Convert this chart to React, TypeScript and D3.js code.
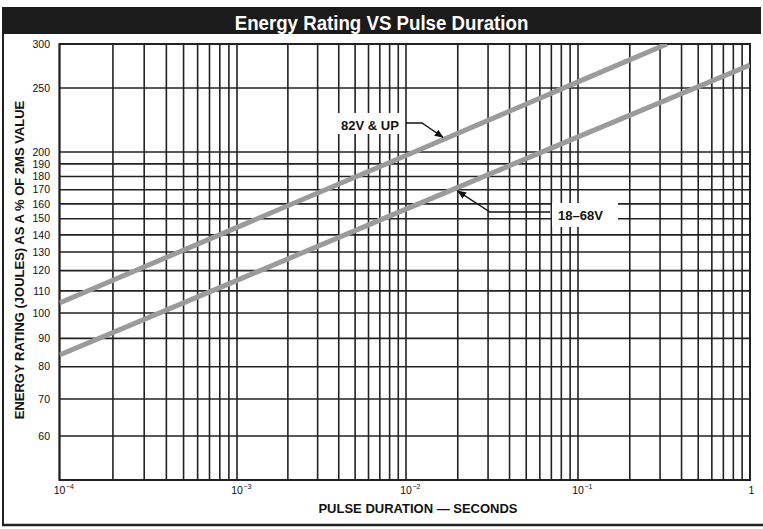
import * as d3 from "d3";

// axis knots as printed (the chart paper is not a perfect log grid)
const xKnots = [1e-4, 1e-3, 1e-2, 1e-1, 1];
const yKnots = [50, 100, 200, 250, 300];
const yTickValues = [60, 70, 80, 90, 100, 110, 120, 130, 140, 150, 160, 170, 180, 190, 200, 250, 300];
const xDecades = [-4, -3, -2, -1];
const xTickLabels = [
  { t: 1e-4, base: "10", exp: "−4" },
  { t: 1e-3, base: "10", exp: "−3" },
  { t: 1e-2, base: "10", exp: "−2" },
  { t: 1e-1, base: "10", exp: "−1" },
  { t: 1, base: "1", exp: "" },
];

// curves
const upperSeries = [
  { t: 1e-4, v: 104.4 },
  { t: 1e-3, v: 144.6 },
  { t: 1e-2, v: 197 },
  { t: 1e-1, v: 256.4 },
  { t: 0.329, v: 300 },
];
const lowerSeries = [
  { t: 1e-4, v: 84 },
  { t: 1e-3, v: 115.1 },
  { t: 1e-2, v: 156.4 },
  { t: 1e-1, v: 210.8 },
  { t: 1, v: 274.9 },
];

const title = "Energy Rating VS Pulse Duration";
const yTitle = "ENERGY RATING (JOULES) AS A % OF 2MS VALUE";
const xTitle = "PULSE DURATION — SECONDS";

export default function App() {
  const width = 763;
  const height = 529;
  const plot = { left: 59.5, right: 750, top: 44, bottom: 480 };

  // piecewise log scales: decade knots as on the printed grid
  const x = d3.scaleLog().domain(xKnots).range([plot.left, 237, 406, 578, plot.right]);
  const y = d3.scaleLog().domain(yKnots).range([plot.bottom, 313, 152, 88, plot.top]);

  const vLines: number[] = [];
  xDecades.forEach(d => {
    for (let k = 1; k <= 9; k++) vLines.push(k * Math.pow(10, d));
  });
  vLines.push(1);

  const line = d3.line<{ t: number; v: number }>()
    .x(d => x(d.t))
    .y(d => y(d.v));

  const font = "'Liberation Sans', Arial, Helvetica, sans-serif";

  // annotation arrow tips in data units
  const upTip = { x: x(0.0164), y: y(210.5) };
  const lowTip = { x: x(0.02), y: y(169) };

  return (
    <svg width={width} height={height} style={{ position: "absolute", left: 0, top: 0 }} fontFamily={font}>
      <defs>
        <marker id="arr" viewBox="0 0 10 10" refX={9} refY={5} markerWidth={7} markerHeight={7} orient="auto">
          <path d="M0,1 L10,5 L0,9 Z" fill="#111" />
        </marker>
        <clipPath id="plotclip">
          <rect x={plot.left} y={plot.top} width={plot.right - plot.left} height={plot.bottom - plot.top} />
        </clipPath>
      </defs>
      <rect width={width} height={height} fill="#fff" />

      {/* title bar */}
      <rect x={2} y={7} width={759} height={27} fill="#1b1b1b" />
      <text transform="translate(381.5,30) scale(0.89,1)" textAnchor="middle" fill="#fff" fontSize={21}
        fontWeight={700}>
        {title}
      </text>

      {/* frame */}
      <line x1={3} x2={3} y1={34} y2={526} stroke="#222" strokeWidth={2} />
      <line x1={2} x2={763} y1={525} y2={525} stroke="#222" strokeWidth={2.5} />

      {/* grid */}
      <g stroke="#222" strokeWidth={1.6}>
        {vLines.map(t => (
          <line key={t} x1={x(t)} x2={x(t)} y1={plot.top} y2={plot.bottom} />
        ))}
        {yTickValues.map(v => (
          <line key={v} x1={plot.left} x2={plot.right} y1={y(v)} y2={y(v)} />
        ))}
        <rect x={plot.left} y={plot.top} width={plot.right - plot.left} height={plot.bottom - plot.top}
          fill="none" strokeWidth={2} />
      </g>

      {/* label boxes */}
      <rect x={335} y={113} width={68} height={21} fill="#fff" />
      <rect x={552} y={203} width={66} height={24} fill="#fff" />

      {/* curves */}
      <g clipPath="url(#plotclip)" fill="none" stroke="#9b9b9b" strokeWidth={5}>
        <path d={line(upperSeries) ?? ""} />
        <path d={line(lowerSeries) ?? ""} />
      </g>

      {/* annotations */}
      <path d={`M406,123 L422,123 L${upTip.x},${upTip.y}`} fill="none" stroke="#111" strokeWidth={1.3}
        markerEnd="url(#arr)" />
      <text x={341} y={129.5} fontSize={13} fontWeight={700} fill="#111">82V &amp; UP</text>
      <path d={`M550,212 L490,212 L${lowTip.x},${lowTip.y}`} fill="none" stroke="#111" strokeWidth={1.3}
        markerEnd="url(#arr)" />
      <text x={558} y={219.5} fontSize={13} fontWeight={700} fill="#111">18–68V</text>

      {/* y tick labels */}
      <g fontSize={10.5} fill="#111" textAnchor="end">
        {yTickValues.map(v => (
          <text key={v} x={50} y={y(v)} dy="0.35em">{v}</text>
        ))}
      </g>

      {/* x tick labels */}
      <g fontSize={10.5} fill="#111">
        {xTickLabels.map(d => (
          <g key={d.t}>
            <text x={x(d.t) + (d.exp ? 0 : 1.5)} y={494} textAnchor="middle">{d.base}</text>
            {d.exp && (
              <text x={x(d.t) + 6.5} y={489} fontSize={7}>{d.exp}</text>
            )}
          </g>
        ))}
      </g>

      {/* axis titles */}
      <text x={418} y={513} textAnchor="middle" fontSize={13} fontWeight={700} fill="#111">{xTitle}</text>
      <text transform={`translate(23.5,260) rotate(-90)`} textAnchor="middle"
        fontSize={13} fontWeight={700} fill="#111">{yTitle}</text>
    </svg>
  );
}
